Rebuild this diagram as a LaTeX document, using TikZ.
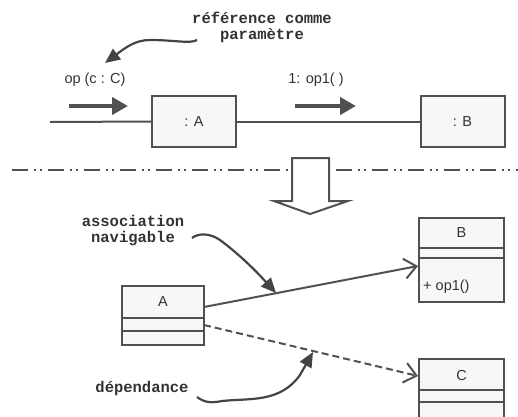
\documentclass[tikz,border=0pt]{standalone}
\usepackage{fontspec}
\setmainfont{Liberation Sans}
\newfontfamily\monob{Liberation Mono}[BoldFont={* Bold}]
\usetikzlibrary{arrows.meta}
\definecolor{ln}{HTML}{505050}
\definecolor{bx}{HTML}{F7F7F7}
\definecolor{tx}{HTML}{333333}
\tikzset{
  lbl/.style={font=\fontsize{14.5}{16}\selectfont, text=tx, inner sep=0pt},
  note/.style={font=\monob\bfseries\fontsize{15.5}{17}\selectfont, text=tx, inner sep=0pt, align=center},
  obj/.style={draw=ln, fill=bx, line width=2pt, minimum width=84pt, minimum height=51pt, inner sep=0pt, font=\fontsize{14.5}{16}\selectfont, text=tx},
  msg/.style={draw=ln, line width=4pt, -{Triangle[length=16pt,width=17pt]}},
  callout/.style={draw=ln!85!black, line width=2.2pt, -{Triangle[length=15pt,width=13pt]}},
  frame/.style={draw=ln, line width=2pt},
  open/.style={draw=ln, line width=2pt, -{Straight Barb[length=12pt,width=20pt,line width=2pt]}},
}
\begin{document}
\begin{tikzpicture}[x=1pt,y=-1pt]
\useasboundingbox (0,0) rectangle (518,416);
\clip (0,0) rectangle (518,416);
% ---- top: collaboration
\node[note] (ref) at (262,27) {référence comme\\[-1pt]paramètre};
\coordinate (refs) at (197,40);
\node[lbl] (op) at (95,80) {op (c : C)};
\node[lbl] (op1) at (316,80) {1: op1( )};
\coordinate (lin) at (50,122);
\node[obj] (oA) at (194,121.5) {: A};
\node[obj] (oB) at (462.5,121.5) {: B};
\draw[frame] (lin) -- (oA.west);
\draw[frame] (oA.east) -- (oB.west);
\coordinate (m1s) at (69,106);
\coordinate (m1e) at (128,106);
\coordinate (m2s) at (295,106);
\coordinate (m2e) at (356,106);
\draw[msg] (m1s) -- (m1e);
\draw[msg] (m2s) -- (m2e);
\coordinate (reft) at (105,63);
\draw[callout] (refs) .. controls (190,44) and (175,40) .. (150,40) .. controls (135,40) and (125,48) .. (reft);
% ---- separator
\coordinate (sepl) at (12,170);
\coordinate (sepr) at (518,170);
\draw[ln, line width=2pt, dash pattern=on 16pt off 6pt on 2pt off 4pt on 2pt off 6pt] (sepl) -- (sepr);
% ---- block arrow
\draw[ln, fill=white, line width=2pt, line join=miter]
  (292,158) -- (329,158) -- (329,201) -- (348,201) -- (310,214) -- (274,201) -- (292,201) -- cycle;
% ---- bottom: classes
% class A
\draw[frame, fill=bx] (122,286) rectangle (204,345);
\draw[frame] (122,318) -- (204,318);
\draw[frame] (122,331) -- (204,331);
\node[lbl] (cA) at (163,302) {A};
% class B
\draw[frame, fill=bx] (419,218) rectangle (504,302);
\draw[frame] (419,248) -- (504,248);
\draw[frame] (419,258) -- (504,258);
\node[lbl] (cB) at (461.5,233) {B};
\node[lbl, anchor=west] (opB) at (423,287) {+ op1()};
% class C
\draw[frame, fill=bx] (419,359) rectangle (504,425);
\draw[frame] (419,390) -- (504,390);
\draw[frame] (419,402) -- (504,402);
\node[lbl] (cC) at (461.5,375) {C};
% relations
\coordinate (aR1) at (204,307);
\coordinate (bL) at (418,266);
\coordinate (aR2) at (204,325);
\coordinate (cL) at (418,376);
\draw[open] (aR1) -- (bL);
\draw[open, dash pattern=on 7pt off 4pt] (aR2) -- (cL);
% notes
\node[note] (assoc) at (133,231) {association\\[-1pt]navigable};
\coordinate (as) at (192,238);
\coordinate (at) at (276,293);
\draw[callout] (as) .. controls (198,233) and (210,233) .. (220,240) .. controls (240,255) and (255,270) .. (at);
\node[note] (dep) at (142,388) {dépendance};
\coordinate (ds) at (197,397);
\coordinate (dt) at (313,352);
\draw[callout] (ds) .. controls (205,403) and (212,403) .. (222,401) .. controls (250,398) and (280,403) .. (300,375) -- (dt);
\end{tikzpicture}
\end{document}
